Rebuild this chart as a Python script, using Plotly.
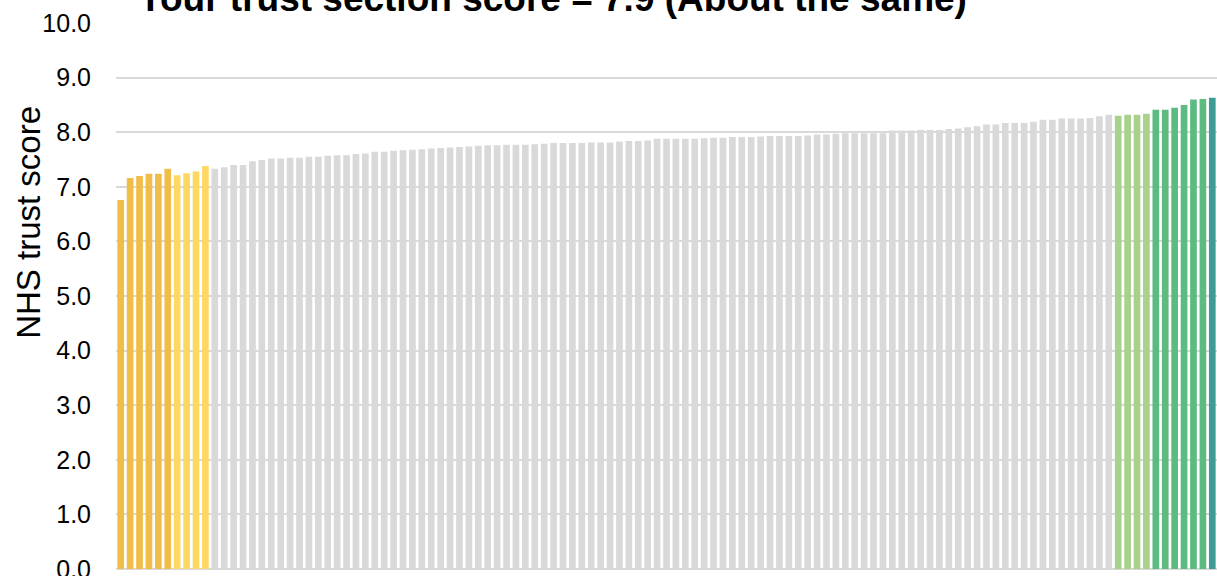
import plotly.graph_objects as go

# ---- data ----
trust_ids = [f"Trust {i}" for i in range(1, 118)]

scores = [
    6.76, 7.16, 7.20, 7.24, 7.24, 7.33, 7.21, 7.25, 7.28, 7.38,
    7.33, 7.36, 7.40, 7.40, 7.47, 7.49, 7.52, 7.52, 7.53, 7.53,
    7.55, 7.55, 7.57, 7.58, 7.58, 7.60, 7.61, 7.64, 7.64, 7.66,
    7.67, 7.68, 7.69, 7.70, 7.71, 7.72, 7.73, 7.74, 7.75, 7.76,
    7.76, 7.77, 7.77, 7.77, 7.78, 7.79, 7.80, 7.80, 7.80, 7.80,
    7.81, 7.81, 7.81, 7.83, 7.84, 7.84, 7.85, 7.88, 7.88, 7.88,
    7.88, 7.88, 7.89, 7.90, 7.90, 7.91, 7.91, 7.91, 7.92, 7.93,
    7.93, 7.93, 7.93, 7.94, 7.96, 7.96, 7.97, 7.98, 7.98, 7.98,
    7.98, 7.98, 8.03, 8.03, 8.03, 8.04, 8.04, 8.04, 8.06, 8.07,
    8.09, 8.11, 8.14, 8.14, 8.17, 8.17, 8.17, 8.19, 8.23, 8.23,
    8.25, 8.25, 8.25, 8.26, 8.29, 8.32, 8.30, 8.32, 8.32, 8.34,
    8.41, 8.41, 8.45, 8.50, 8.60, 8.61, 8.63,
]

band_names = ["Much worse", "Somewhat worse", "About the same",
              "Somewhat better", "Better", "Much better"]
band_counts = [6, 4, 96, 4, 6, 1]

title_text = "Your trust section score = 7.9 (About the same)"
y_title = "NHS trust score"
y_ticks = [0, 1, 2, 3, 4, 5, 6, 7, 8, 9, 10]

# ---- styles ----
band_colors = {
    "Much worse": "#F0BD48",
    "Somewhat worse": "#FED864",
    "About the same": "#D9D9D9",
    "Somewhat better": "#A8D18C",
    "Better": "#5DBA81",
    "Much better": "#3F9B95",
}

bands = []
for name, n in zip(band_names, band_counts):
    bands += [name] * n
colors = [band_colors[b] for b in bands]

fig = go.Figure()
fig.add_trace(go.Bar(
    x=trust_ids, y=scores,
    marker=dict(color=colors, line=dict(width=0)),
    showlegend=False,
))

FONT = "Liberation Sans, Arial, sans-serif"

fig.update_layout(
    width=1217, height=576,
    margin=dict(l=116, r=0, t=23, b=7, autoexpand=False),
    paper_bgcolor="white", plot_bgcolor="white",
    bargap=0.29,
    font=dict(family=FONT, color="#000000"),
    xaxis=dict(showticklabels=False, showgrid=False, zeroline=False,
               showline=False, ticks="", automargin=False),
    yaxis=dict(range=[0, 10], tickvals=y_ticks,
               ticktext=[f"{v:.1f}" for v in y_ticks],
               tickfont=dict(size=25, family=FONT, color="#000000"),
               showgrid=True, gridcolor="#D9D9D9", gridwidth=2,
               zeroline=True, zerolinecolor="#D9D9D9", zerolinewidth=2,
               showline=False, ticks="", ticklabelstandoff=24,
               ticklabeloverflow="allow", automargin=False),
    annotations=[
        dict(text=f"<b>{title_text}</b>", xref="paper", yref="paper",
             x=0.3965, y=1.044, xanchor="center", yanchor="middle",
             showarrow=False, font=dict(size=37, family=FONT, color="#000000")),
        dict(text=y_title, xref="paper", yref="paper",
             x=-0.079, y=0.634, xanchor="center", yanchor="middle",
             textangle=-90, showarrow=False,
             font=dict(size=33, family=FONT, color="#000000")),
    ],
)

fig.write_html(
    "out.html",
    config={"displayModeBar": False},
    post_script="document.body.style.margin='0';document.body.style.overflow='hidden';",
)
